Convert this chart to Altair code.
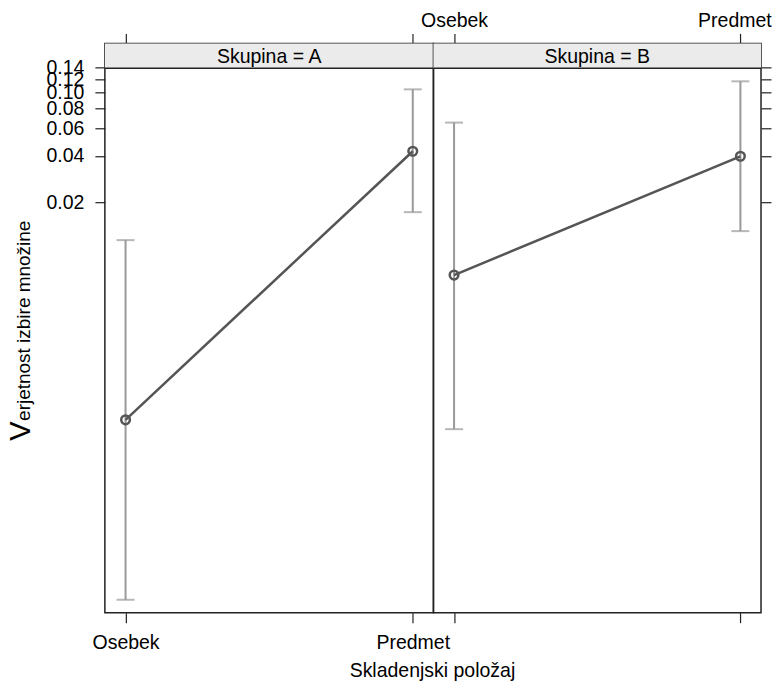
import math
import altair as alt
import pandas as pd

# ---- data ----
group_order = ["A", "B"]
position_order = ["Osebek", "Predmet"]
groups = ["A", "A", "B", "B"]
positions = ["Osebek", "Predmet", "Osebek", "Predmet"]
fit = [0.000706, 0.0429, 0.00657, 0.0398]
lower = [0.0000438, 0.01718, 0.000611, 0.01287]
upper = [0.01122, 0.1044, 0.0652, 0.1166]
tick_probs = [0.02, 0.04, 0.06, 0.08, 0.10, 0.12, 0.14]

x_title = "Skladenjski položaj"
y_title_first = "V"
y_title_rest = "erjetnost izbire množine"
strip_prefix = "Skupina = "

# ---- style ----
FONT = "Liberation Sans"
FS = 19.5
W_A, W_B, H, STRIP = 329, 328, 570, 25
Y_DOMAIN = [-10.235, -1.439]
LINE = "#555555"
BAR = "#999999"
FRAME = "#222222"
STRIP_FILL = "#ebebeb"

df = pd.DataFrame({"group": groups, "pos": positions, "fit": fit,
                   "lower": lower, "upper": upper})
tick_vals = [math.log(p / (1 - p)) for p in tick_probs]
label_expr = "format(1/(1+exp(-datum.value)), '.2f')"


def panel(g, W, first):
    base = alt.Chart(df).transform_filter(alt.datum.group == g).transform_calculate(
        lfit="log(datum.fit/(1-datum.fit))",
        llo="log(datum.lower/(1-datum.lower))",
        lhi="log(datum.upper/(1-datum.upper))",
    )
    xscale = alt.Scale(type="point", domain=position_order, padding=0.072)
    yscale = alt.Scale(domain=Y_DOMAIN, nice=False, zero=False)
    common = dict(tickSize=10, tickColor=FRAME, tickWidth=1.2, domain=False,
                  grid=False, labelFont=FONT, labelFontSize=FS, labelColor="#000",
                  labelOverlap=False, labelFlush=False)
    x_bottom = alt.Axis(orient="bottom", labels=first, labelPadding=11, labelAngle=0, **common)
    top_kw = dict(orient="top", labels=not first, labelPadding=3, labelAngle=0)
    if not first:
        top_kw["labelOffset"] = {"condition": {"test": "datum.value === 'Predmet'", "value": -6},
                                 "value": 0}
    x_top = alt.Axis(**top_kw, **common)
    y_axis = alt.Axis(orient="left" if first else "right", values=tick_vals,
                      labels=first, labelExpr=label_expr, labelPadding=11, **common)

    Y = lambda f: alt.Y(f, type="quantitative", scale=yscale, axis=y_axis, title=None)

    bars = base.mark_rule(color=BAR, strokeWidth=2).encode(
        x=alt.X("pos:N", scale=xscale, axis=x_bottom, title=None),
        y=Y("llo"),
        y2="lhi:Q",
    )
    cap_lo = base.mark_tick(color=BAR, size=18, thickness=2, orient="horizontal").encode(
        x=alt.X("pos:N", scale=xscale, axis=x_top, title=None),
        y=Y("llo"),
    )
    cap_hi = base.mark_tick(color=BAR, size=18, thickness=2, orient="horizontal").encode(
        x=alt.X("pos:N", scale=xscale, axis=None),
        y=Y("lhi"),
    )
    line = base.mark_line(color=LINE, strokeWidth=2.5).encode(
        x=alt.X("pos:N", scale=xscale, axis=None),
        y=Y("lfit"),
    )
    pts = base.mark_point(shape="circle", filled=False, size=75, strokeWidth=2.5,
                          color=LINE, opacity=1).encode(
        x=alt.X("pos:N", scale=xscale, axis=None),
        y=Y("lfit"),
    )

    sdf = pd.DataFrame({"label": [strip_prefix + g]})
    strip_bg = alt.Chart(sdf).mark_rect(fill=STRIP_FILL, strokeWidth=0).encode(
        x=alt.value(0), x2=alt.value(W), y=alt.value(0), y2=alt.value(STRIP))
    strip_line = alt.Chart(sdf).mark_rule(color=FRAME, strokeWidth=1.5).encode(
        x=alt.value(0), x2=alt.value(W), y=alt.value(STRIP))
    strip_text = alt.Chart(sdf).mark_text(font=FONT, fontSize=FS, color="#000",
                                          baseline="middle", align="center").encode(
        x=alt.value(W / 2), y=alt.value(STRIP / 2 + 1), text="label:N")

    layers = [strip_bg, strip_line, strip_text, bars, cap_lo, cap_hi, line, pts]

    if first:
        tdf = pd.DataFrame({"a": [y_title_first], "b": [y_title_rest]})
        v_big = alt.Chart(tdf).mark_text(font=FONT, fontSize=29, angle=270, color="#000",
                                         align="left", baseline="alphabetic").encode(
            x=alt.value(-75), y=alt.value(398), text="a:N")
        v_rest = alt.Chart(tdf).mark_text(font=FONT, fontSize=19, angle=270, color="#000",
                                          align="left", baseline="alphabetic").encode(
            x=alt.value(-75), y=alt.value(378), text="b:N")
        layers += [v_big, v_rest]
    else:
        xdf = pd.DataFrame({"t": [x_title]})
        xt = alt.Chart(xdf).mark_text(font=FONT, fontSize=FS, color="#000",
                                      align="center", baseline="alphabetic").encode(
            x=alt.value(-1), y=alt.value(H + 64), text="t:N")
        layers.append(xt)

    return alt.layer(*layers).resolve_axis(x="independent").properties(width=W, height=H)


chart = alt.hconcat(panel("A", W_A, True), panel("B", W_B, False),
                    spacing=0, bounds="flush").properties(
    padding={"left": -2, "top": 1, "right": 0, "bottom": 0}
).configure(font=FONT).configure_view(stroke=FRAME, strokeWidth=1.5)

chart.save("out.html", embed_options={"renderer": "svg", "actions": False})
